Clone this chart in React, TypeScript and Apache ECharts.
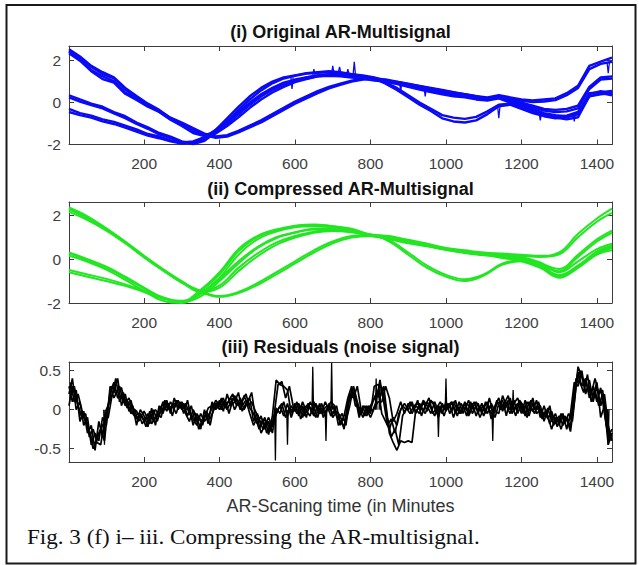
import { useEffect, useRef } from 'react';
import * as echarts from 'echarts';

// Sampling grids (minutes)
const GREEN_X = [1, 50, 100, 150, 200, 250, 300, 350, 400, 450, 500, 550, 600, 650, 700, 750, 800, 850, 900, 950, 1000, 1050, 1100, 1150, 1200, 1250, 1300, 1350, 1400, 1440];
const BLUE_X = [1, 30, 60, 90, 120, 150, 180, 210, 240, 270, 300, 330, 360, 390, 420, 450, 480, 510, 540, 570, 600, 630, 660, 690, 720, 750, 780, 810, 840, 870, 900, 930, 960, 990, 1020, 1050, 1080, 1110, 1140, 1170, 1200, 1230, 1260, 1290, 1320, 1350, 1380, 1410, 1440];
const RESID_X = [1, 10, 20, 30, 40, 50, 60, 70, 80, 90, 100, 110, 120, 130, 140, 150, 160, 170, 180, 190, 200, 210, 220, 230, 240, 250, 260, 270, 280, 290, 300, 310, 320, 330, 340, 350, 360, 370, 380, 390, 400, 410, 420, 430, 440, 450, 460, 470, 480, 490, 500, 510, 520, 530, 540, 550, 560, 570, 580, 590, 600, 610, 620, 630, 640, 650, 660, 670, 680, 690, 700, 710, 720, 730, 740, 750, 760, 770, 780, 790, 800, 810, 820, 830, 840, 850, 860, 870, 880, 890, 900, 910, 920, 930, 940, 950, 960, 970, 980, 990, 1000, 1010, 1020, 1030, 1040, 1050, 1060, 1070, 1080, 1090, 1100, 1110, 1120, 1130, 1140, 1150, 1160, 1170, 1180, 1190, 1200, 1210, 1220, 1230, 1240, 1250, 1260, 1270, 1280, 1290, 1300, 1310, 1320, 1330, 1340, 1350, 1360, 1370, 1380, 1390, 1400, 1410, 1420, 1430, 1440];
const RESID_X_MID = [5, 15, 25, 35, 45, 55, 65, 75, 85, 95, 105, 115, 125, 135, 145, 155, 165, 175, 185, 195, 205, 215, 225, 235, 245, 255, 265, 275, 285, 295, 305, 315, 325, 335, 345, 355, 365, 375, 385, 395, 405, 415, 425, 435, 445, 455, 465, 475, 485, 495, 505, 515, 525, 535, 545, 555, 565, 575, 585, 595, 605, 615, 625, 635, 645, 655, 665, 675, 685, 695, 705, 715, 725, 735, 745, 755, 765, 775, 785, 795, 805, 815, 825, 835, 845, 855, 865, 875, 885, 895, 905, 915, 925, 935, 945, 955, 965, 975, 985, 995, 1005, 1015, 1025, 1035, 1045, 1055, 1065, 1075, 1085, 1095, 1105, 1115, 1125, 1135, 1145, 1155, 1165, 1175, 1185, 1195, 1205, 1215, 1225, 1235, 1245, 1255, 1265, 1275, 1285, 1295, 1305, 1315, 1325, 1335, 1345, 1355, 1365, 1375, 1385, 1395, 1405, 1415, 1425, 1435];

// Tick labels
const MINUTE_TICKS = [200, 400, 600, 800, 1000, 1200, 1400];
const SIGNAL_TICKS = [-2, 0, 2];
const RESID_TICKS = [-0.5, 0, 0.5];

// (i) original AR signals
const BLUE_A1 = [2.45, 2.05, 1.55, 1.25, 1.02, 0.48, 0.2, -0.12, -0.38, -0.72, -0.95, -1.22, -1.48, -1.62, -1.55, -1.35, -1.1, -0.85, -0.55, -0.25, 0.05, 0.3, 0.55, 0.75, 0.9, 1.05, 1.15, 1.15, 0.9, 0.6, 0.25, -0.1, -0.4, -0.75, -0.9, -0.95, -0.85, -0.55, -0.18, -0.1, -0.3, -0.5, -0.65, -0.75, -0.7, -0.55, 0.3, 0.45, 0.35];
const BLUE_A2 = [2.35, 2.0, 1.5, 1.12, 0.95, 0.42, 0.12, -0.2, -0.45, -0.8, -1.02, -1.3, -1.55, -1.68, -1.62, -1.42, -1.18, -0.95, -0.65, -0.35, -0.05, 0.2, 0.45, 0.68, 0.85, 1.0, 1.1, 1.12, 0.95, 0.7, 0.35, 0.0, -0.3, -0.6, -0.72, -0.78, -0.68, -0.42, -0.1, -0.05, -0.25, -0.45, -0.58, -0.68, -0.62, -0.45, 0.4, 0.55, 0.42];
const BLUE_B1 = [2.55, 2.2, 1.75, 1.45, 1.2, 0.7, 0.32, -0.05, -0.35, -0.75, -1.08, -1.4, -1.55, -1.4, -1.0, -0.55, -0.1, 0.3, 0.6, 0.85, 1.05, 1.2, 1.3, 1.35, 1.4, 1.35, 1.3, 1.2, 1.05, 0.95, 0.85, 0.75, 0.65, 0.55, 0.45, 0.4, 0.3, 0.25, 0.35, 0.25, 0.15, 0.1, 0.15, 0.2, 0.45, 0.8, 1.75, 1.95, 2.15];
const BLUE_B2 = [2.45, 2.12, 1.7, 1.36, 1.15, 0.62, 0.24, -0.12, -0.44, -0.82, -1.12, -1.45, -1.6, -1.48, -1.12, -0.7, -0.25, 0.15, 0.48, 0.75, 0.98, 1.12, 1.25, 1.3, 1.33, 1.3, 1.25, 1.15, 1.0, 0.9, 0.78, 0.68, 0.58, 0.48, 0.38, 0.32, 0.22, 0.18, 0.28, 0.18, 0.08, 0.02, 0.05, 0.12, 0.35, 0.7, 1.6, 1.85, 1.95];
const BLUE_C1 = [0.35, 0.15, -0.05, -0.2, -0.45, -0.65, -0.95, -1.18, -1.45, -1.62, -1.85, -1.95, -1.75, -1.3, -0.75, -0.2, 0.3, 0.7, 1.0, 1.2, 1.3, 1.4, 1.45, 1.5, 1.45, 1.35, 1.25, 1.15, 1.1, 1.0, 0.9, 0.8, 0.7, 0.6, 0.5, 0.4, 0.3, 0.2, 0.25, 0.1, 0.0, -0.15, -0.3, -0.35, -0.3, -0.15, 0.75, 1.2, 1.25];
const BLUE_C2 = [0.25, 0.05, -0.12, -0.28, -0.52, -0.74, -1.02, -1.25, -1.52, -1.7, -1.9, -1.98, -1.82, -1.42, -0.9, -0.35, 0.15, 0.58, 0.92, 1.15, 1.28, 1.38, 1.42, 1.45, 1.42, 1.32, 1.2, 1.12, 1.05, 0.98, 0.88, 0.78, 0.68, 0.58, 0.48, 0.38, 0.28, 0.18, 0.22, 0.05, -0.08, -0.22, -0.38, -0.45, -0.42, -0.28, 0.65, 1.1, 1.15];
const BLUE_D1 = [-0.3, -0.5, -0.62, -0.8, -0.92, -1.1, -1.28, -1.5, -1.62, -1.8, -1.9, -1.85, -1.65, -1.3, -0.9, -0.45, 0.0, 0.4, 0.7, 0.95, 1.1, 1.2, 1.3, 1.3, 1.3, 1.25, 1.2, 1.1, 1.05, 0.95, 0.8, 0.7, 0.55, 0.45, 0.35, 0.3, 0.2, 0.15, 0.3, 0.05, -0.1, -0.3, -0.5, -0.6, -0.65, -0.55, 0.45, 0.5, 0.55];
const BLUE_D2 = [-0.45, -0.6, -0.72, -0.9, -1.02, -1.2, -1.38, -1.58, -1.7, -1.85, -1.95, -1.9, -1.72, -1.4, -1.0, -0.55, -0.1, 0.3, 0.62, 0.88, 1.05, 1.15, 1.25, 1.28, 1.25, 1.2, 1.15, 1.05, 1.0, 0.9, 0.75, 0.62, 0.5, 0.4, 0.3, 0.25, 0.15, 0.1, 0.2, 0.0, -0.18, -0.4, -0.6, -0.72, -0.8, -0.7, 0.3, 0.4, 0.45];
// short glitches in the original signals: [minute, level, tip]
const BLUE_SPIKES = [[592, 1.2, 0.65], [650, 1.3, 1.6], [700, 1.4, 1.75], [718, 1.45, 1.7], [740, 1.35, 1.6], [757, 1.35, 1.95], [880, 1.0, 0.5], [945, 0.7, 0.3], [1140, -0.2, -0.75], [1250, -0.5, -0.85], [1340, -0.5, -0.9], [1430, 1.9, 1.4]];

// (ii) compressed AR signals
const GREEN_A1 = [2.25, 1.85, 1.35, 0.75, 0.1, -0.5, -1.05, -1.45, -1.68, -1.5, -1.1, -0.6, -0.1, 0.4, 0.8, 1.05, 1.1, 0.8, 0.2, -0.4, -0.8, -1.0, -0.75, -0.25, -0.1, -0.35, -0.8, -0.35, 0.25, 0.5];
const GREEN_A2 = [2.15, 1.78, 1.3, 0.72, 0.08, -0.52, -1.08, -1.5, -1.72, -1.55, -1.18, -0.7, -0.2, 0.3, 0.72, 0.98, 1.05, 0.85, 0.3, -0.3, -0.72, -0.92, -0.7, -0.2, -0.05, -0.3, -0.72, -0.3, 0.35, 0.62];
const GREEN_B1 = [2.35, 1.95, 1.4, 0.8, 0.15, -0.45, -1.0, -1.45, -1.2, -0.4, 0.25, 0.75, 1.05, 1.25, 1.3, 1.25, 1.1, 0.95, 0.8, 0.65, 0.5, 0.4, 0.3, 0.25, 0.2, 0.15, 0.3, 1.15, 1.85, 2.3];
const GREEN_B2 = [2.3, 1.9, 1.38, 0.78, 0.12, -0.5, -1.05, -1.5, -1.3, -0.55, 0.12, 0.65, 0.98, 1.2, 1.28, 1.22, 1.08, 0.9, 0.72, 0.58, 0.45, 0.35, 0.25, 0.2, 0.15, 0.1, 0.22, 1.0, 1.7, 2.1];
const GREEN_C1 = [0.25, -0.05, -0.4, -0.85, -1.35, -1.8, -1.95, -1.45, -0.7, 0.35, 1.0, 1.3, 1.5, 1.55, 1.5, 1.35, 1.1, 1.0, 0.85, 0.65, 0.45, 0.3, 0.2, 0.15, 0.05, -0.2, -0.45, 0.2, 0.9, 1.3];
const GREEN_C2 = [0.15, -0.12, -0.48, -0.95, -1.45, -1.9, -2.0, -1.55, -0.85, 0.2, 0.9, 1.25, 1.45, 1.5, 1.45, 1.3, 1.05, 0.95, 0.8, 0.6, 0.42, 0.28, 0.18, 0.12, 0.0, -0.28, -0.55, 0.1, 0.8, 1.2];
const GREEN_C3 = [0.3, 0.0, -0.35, -0.8, -1.3, -1.75, -1.92, -1.4, -0.6, 0.45, 1.05, 1.35, 1.52, 1.58, 1.5, 1.38, 1.12, 1.02, 0.88, 0.7, 0.5, 0.35, 0.25, 0.2, 0.1, -0.15, -0.6, -0.1, 0.45, 0.7];
const GREEN_D1 = [-0.5, -0.7, -0.9, -1.15, -1.45, -1.75, -1.95, -1.7, -1.0, -0.2, 0.5, 0.95, 1.2, 1.35, 1.35, 1.25, 1.1, 1.05, 0.85, 0.65, 0.45, 0.35, 0.25, 0.1, -0.05, -0.35, -0.75, -0.3, 0.3, 0.55];
const GREEN_D2 = [-0.6, -0.8, -1.0, -1.22, -1.5, -1.8, -1.9, -1.6, -0.9, -0.1, 0.55, 1.0, 1.22, 1.38, 1.4, 1.3, 1.12, 1.02, 0.82, 0.62, 0.42, 0.3, 0.2, 0.05, -0.1, -0.4, -0.85, -0.4, 0.2, 0.4];

// (iii) residuals (noise), sampled every 10 minutes
const RESID_1 = [
  0.05, 0.3, 0.15, -0.05, -0.1, -0.2, -0.35, -0.45, -0.3, -0.2,
  -0.12, 0.22, 0.35, 0.15, 0.18, 0.05, 0.1, -0.05, -0.12, -0.05,
  -0.15, -0.05, -0.18, -0.1, 0.0, 0.08, -0.02, 0.1, 0.02, 0.12,
  0.0, 0.08, -0.05, -0.12, -0.2, -0.05, -0.15, -0.08, 0.02, 0.12,
  0.05, 0.15, 0.0, 0.1, 0.18, 0.05, 0.12, 0.2, 0.02, -0.05,
  -0.18, -0.08, -0.25, -0.15, -0.3, 0.02, -0.05, 0.1, -0.08, 0.05,
  -0.02, 0.08, -0.1, 0.05, 0.02, -0.08, 0.05, -0.05, 0.1, 0.0,
  0.05, -0.08, -0.15, -0.22, 0.05, 0.25, 0.18, -0.05, 0.02, -0.08,
  0.05, 0.15, 0.25, -0.05, -0.15, -0.25, -0.1, -0.2, 0.0, 0.08,
  0.0, 0.1, -0.05, 0.08, -0.02, 0.1, 0.02, -0.08, 0.05, -0.05,
  0.1, -0.05, 0.05, -0.08, 0.08, 0.0, 0.12, -0.05, 0.05, -0.1,
  0.02, 0.1, -0.12, 0.05, 0.15, -0.02, 0.1, 0.0, 0.12, -0.05,
  0.08, -0.08, 0.1, -0.02, 0.12, -0.1, 0.05, -0.12, -0.02, -0.18,
  -0.08, -0.2, -0.1, -0.22, 0.25, 0.48, 0.3, 0.4, 0.15, 0.3,
  0.1, 0.28, -0.05, -0.35, -0.25,
];
const RESID_2 = [
  0.3, 0.1, 0.25, -0.15, -0.02, -0.3, -0.2, -0.52, -0.15, -0.35,
  0.0, 0.12, 0.25, 0.4, 0.05, 0.2, -0.02, 0.05, -0.2, 0.0,
  -0.08, -0.22, 0.02, -0.2, 0.05, -0.05, 0.12, -0.05, 0.15, 0.0,
  0.1, -0.05, -0.15, 0.0, -0.1, -0.25, 0.0, -0.18, 0.1, 0.0,
  0.12, -0.02, 0.2, 0.05, 0.1, 0.22, -0.02, 0.08, 0.15, -0.15,
  -0.05, -0.2, -0.1, -0.32, -0.08, 0.38, 0.32, 0.3, 0.25, -0.05,
  0.08, -0.08, 0.05, -0.1, 0.1, 0.02, -0.1, 0.08, -0.05, 0.05,
  -0.05, 0.05, -0.2, -0.08, 0.15, 0.3, 0.05, 0.02, -0.1, 0.05,
  -0.05, 0.3, 0.32, 0.28, 0.05, -0.3, -0.42, -0.52, -0.4, -0.42,
  -0.4, -0.42, 0.0, -0.05, 0.1, -0.02, 0.12, 0.05, -0.1, 0.08,
  -0.02, 0.08, -0.1, 0.05, -0.05, 0.1, -0.05, 0.08, -0.08, 0.05,
  -0.08, 0.05, 0.02, -0.1, 0.08, 0.12, -0.08, 0.15, -0.02, 0.08,
  -0.05, 0.12, -0.08, 0.08, 0.0, 0.05, -0.15, 0.02, -0.15, -0.05,
  -0.2, -0.05, -0.25, -0.05, 0.35, 0.3, 0.5, 0.2, 0.38, 0.1,
  0.3, 0.05, 0.2, -0.2, -0.4,
];
const RESID_3 = [
  0.2, 0.4, 0.0, 0.1, -0.2, -0.1, -0.45, -0.3, -0.4, -0.1,
  -0.2, 0.3, 0.15, 0.25, 0.28, 0.08, 0.15, 0.02, -0.02, -0.1,
  -0.02, -0.12, -0.08, 0.0, -0.08, 0.1, 0.05, 0.0, 0.08, 0.05,
  0.06, 0.0, 0.02, -0.2, -0.05, -0.15, -0.1, 0.02, 0.05, 0.08,
  0.0, 0.1, 0.08, 0.15, 0.0, 0.1, 0.05, 0.12, -0.05, -0.2,
  -0.1, -0.3, -0.2, -0.1, -0.22, -0.05, 0.05, -0.08, 0.08, -0.1,
  0.05, -0.05, 0.1, -0.02, -0.08, 0.1, -0.02, 0.02, -0.08, 0.08,
  -0.1, -0.02, -0.08, -0.25, 0.1, 0.2, 0.15, -0.1, 0.05, 0.0,
  -0.1, 0.02, 0.1, 0.1, 0.3, 0.15, -0.15, -0.05, 0.1, -0.05,
  0.08, -0.05, 0.05, 0.0, 0.12, 0.05, -0.05, 0.1, -0.02, 0.05,
  0.0, 0.05, 0.1, 0.0, -0.02, 0.08, -0.08, 0.02, 0.1, 0.0,
  0.05, -0.05, 0.08, -0.02, -0.05, 0.18, 0.05, -0.05, 0.08, 0.15,
  0.0, 0.05, -0.02, 0.15, -0.05, 0.0, -0.05, -0.08, -0.25, -0.1,
  -0.15, -0.1, -0.12, -0.28, 0.1, 0.55, 0.42, 0.22, 0.28, 0.18,
  0.35, -0.1, 0.05, -0.45, -0.3,
];
// residuals sampled between the 10-minute marks
const RESID_4 = [
  0.35, 0.1, 0.2, 0.0, -0.15, -0.28, -0.5, -0.38, -0.25, -0.4,
  0.05, 0.3, 0.2, 0.3, 0.1, 0.12, -0.05, 0.0, -0.15, -0.08,
  -0.22, -0.02, -0.15, -0.05, -0.1, 0.12, 0.0, 0.06, -0.05, 0.1,
  -0.05, 0.12, -0.1, -0.05, -0.25, -0.12, -0.05, -0.2, 0.05, 0.02,
  0.15, 0.02, 0.12, 0.2, 0.05, 0.15, 0.0, 0.1, 0.22, -0.1,
  -0.25, -0.12, -0.3, -0.2, -0.12, 0.0, 0.08, -0.1, 0.02, -0.02,
  0.1, -0.12, 0.0, 0.08, -0.05, 0.08, -0.05, 0.0, 0.05, -0.08,
  -0.02, -0.12, -0.05, -0.2, 0.2, 0.15, 0.3, 0.0, -0.08, 0.05,
  -0.02, 0.1, 0.38, 0.1, -0.2, -0.12, -0.3, -0.05, 0.05, 0.0,
  0.1, 0.0, 0.12, -0.08, 0.05, 0.15, -0.05, 0.02, 0.1, 0.0,
  0.05, 0.1, -0.05, 0.1, -0.05, 0.08, 0.02, 0.1, -0.05, 0.08,
  -0.05, 0.15, -0.05, 0.12, 0.0, 0.08, 0.18, -0.05, 0.05, 0.1,
  -0.05, 0.1, 0.02, -0.05, 0.1, -0.05, -0.1, 0.05, -0.2, -0.1,
  -0.25, -0.08, -0.15, -0.05, 0.4, 0.35, 0.22, 0.45, 0.1, 0.25,
  0.05, 0.2, -0.2, -0.3,
];
const RESID_5 = [
  0.15, 0.3, 0.05, -0.1, -0.05, -0.35, -0.25, -0.42, -0.45, -0.15,
  -0.1, 0.18, 0.4, 0.1, 0.22, 0.02, 0.12, -0.08, -0.05, -0.18,
  -0.1, -0.18, 0.0, -0.15, 0.02, 0.0, 0.08, -0.08, 0.12, 0.02,
  0.08, -0.08, 0.05, -0.15, -0.08, -0.2, -0.02, -0.12, 0.0, 0.1,
  0.0, 0.12, -0.05, 0.12, 0.15, 0.0, 0.18, 0.05, 0.1, -0.02,
  -0.12, -0.25, -0.15, -0.28, -0.05, 0.32, 0.36, 0.15, 0.3, 0.05,
  -0.05, 0.05, -0.08, 0.05, 0.0, -0.1, 0.08, -0.1, 0.02, 0.1,
  0.05, -0.2, -0.12, -0.15, 0.05, 0.3, 0.1, -0.05, 0.05, -0.05,
  0.08, 0.2, 0.15, 0.3, -0.1, -0.35, -0.25, -0.45, -0.08, 0.02,
  -0.05, 0.05, 0.08, 0.02, -0.05, 0.08, 0.1, -0.05, 0.05, -0.08,
  0.08, -0.02, 0.12, -0.05, 0.05, -0.08, 0.1, 0.0, 0.08, -0.05,
  0.1, 0.0, -0.08, 0.08, 0.1, 0.0, 0.12, 0.05, -0.08, 0.12,
  0.05, -0.1, 0.12, 0.0, 0.05, -0.12, 0.0, -0.18, -0.08, -0.22,
  -0.05, -0.18, -0.05, -0.15, 0.3, 0.5, 0.35, 0.3, 0.2, 0.4,
  0.2, 0.25, -0.1, -0.4,
];
// isolated residual spikes: [minute, tip]
const RESID_SPIKES = [[95, -0.45], [548, -0.65], [580, -0.45], [647, 0.55], [682, -0.4], [697, 0.6], [815, 0.4], [825, 0.38], [980, -0.35], [1000, 0.4], [1124, -0.4], [1178, 0.25], [1430, -0.45]];

const BLUE = '#0a0af5';
const GREEN = '#22e622';
const BLACK = '#000000';
const AXIS_COLOR = '#3c3c3c';
const LABEL_COLOR = '#404040';
const SANS = '"Liberation Sans", Arial, Helvetica, sans-serif';

const GRIDS = [
  { left: 69, top: 46, width: 543, height: 98.5 },
  { left: 69, top: 202, width: 543, height: 101 },
  { left: 69, top: 362, width: 543, height: 100 },
];
const Y_RANGES = [
  { min: -2, max: 2.7, ticks: SIGNAL_TICKS },
  { min: -2, max: 2.6, ticks: SIGNAL_TICKS },
  { min: -0.67, max: 0.61, ticks: RESID_TICKS },
];

const pairs = (xs: number[], ys: number[]) => xs.map((x, i) => [x, ys[i]]);
const plainNumber = (v: number) => String(v);

function xAxesFor(gridIndex: number) {
  const common = {
    type: 'value', gridIndex, min: 1, max: 1440,
    axisLine: { show: true, onZero: false, lineStyle: { color: AXIS_COLOR, width: 1 } },
    axisTick: { show: true, inside: true, length: 5, customValues: MINUTE_TICKS, lineStyle: { color: AXIS_COLOR, width: 1 } },
    splitLine: { show: false },
  };
  return [
    { ...common, position: 'bottom', axisLabel: { show: true, customValues: MINUTE_TICKS, formatter: plainNumber, color: LABEL_COLOR, fontSize: 15.5, fontFamily: SANS, margin: 11 } },
    { ...common, position: 'top', axisLabel: { show: false } },
  ];
}

function yAxesFor(gridIndex: number) {
  const r = Y_RANGES[gridIndex];
  const common = {
    type: 'value', gridIndex, min: r.min, max: r.max,
    axisLine: { show: true, onZero: false, lineStyle: { color: AXIS_COLOR, width: 1 } },
    axisTick: { show: true, inside: true, length: 5, customValues: r.ticks, lineStyle: { color: AXIS_COLOR, width: 1 } },
    splitLine: { show: false },
  };
  return [
    { ...common, position: 'left', axisLabel: { show: true, customValues: r.ticks, formatter: plainNumber, color: LABEL_COLOR, fontSize: 15.5, fontFamily: SANS, margin: 8 } },
    { ...common, position: 'right', axisLabel: { show: false } },
  ];
}

function lineSeries(gridIndex: number, data: any[], color: string, width: number, smooth: number | boolean) {
  return {
    type: 'line', xAxisIndex: gridIndex * 2, yAxisIndex: gridIndex * 2,
    data, showSymbol: false, symbol: 'none', smooth, clip: true,
    lineStyle: { color, width }, emphasis: { disabled: true }, silent: true,
  };
}

function buildOption() {
  const series: any[] = [];
  [BLUE_A1, BLUE_A2, BLUE_B1, BLUE_B2, BLUE_C1, BLUE_C2, BLUE_D1, BLUE_D2].forEach((ys) =>
    series.push(lineSeries(0, pairs(BLUE_X, ys), BLUE, 2.4, false)));
  BLUE_SPIKES.forEach(([m, base, tip]) =>
    series.push(lineSeries(0, [[m - 3, base], [m, tip], [m + 3, base]], BLUE, 1.3, false)));

  [GREEN_A1, GREEN_A2, GREEN_B1, GREEN_B2, GREEN_C1, GREEN_C2, GREEN_C3, GREEN_D1, GREEN_D2].forEach((ys) =>
    series.push(lineSeries(1, pairs(GREEN_X, ys), GREEN, 2.0, 0.4)));

  [RESID_1, RESID_2, RESID_3].forEach((ys) =>
    series.push(lineSeries(2, pairs(RESID_X, ys), BLACK, 1.7, false)));
  [RESID_4, RESID_5].forEach((ys) =>
    series.push(lineSeries(2, pairs(RESID_X_MID, ys), BLACK, 1.7, false)));
  RESID_SPIKES.forEach(([m, tip]) =>
    series.push(lineSeries(2, [[m - 2, 0], [m, tip], [m + 2, 0]], BLACK, 1.3, false)));

  const titleFont = { fontSize: 18, fontWeight: 'bold', fontFamily: SANS, fill: '#111' };
  const title = (text: string, y: number) => ({
    type: 'text', x: 340.5, y, silent: true,
    style: { text, ...titleFont, align: 'center', verticalAlign: 'middle' },
  });

  return {
    animation: false,
    backgroundColor: '#ffffff',
    grid: GRIDS.map((g) => ({ ...g, containLabel: false })),
    xAxis: [0, 1, 2].flatMap(xAxesFor),
    yAxis: [0, 1, 2].flatMap(yAxesFor),
    series,
    graphic: [
      {
        type: 'rect', silent: true,
        shape: { x: 6.5, y: 5, width: 629, height: 558.5 },
        style: { fill: 'none', stroke: '#1a1a1a', lineWidth: 2 },
      },
      title('(i) Original AR-Multisignal', 31.5),
      title('(ii) Compressed AR-Multisignal', 188.5),
      title('(iii) Residuals (noise signal)', 347),
      {
        type: 'text', x: 340.5, y: 506, silent: true,
        style: { text: 'AR-Scaning time (in Minutes', fontSize: 18, fontFamily: SANS, fill: '#333', align: 'center', verticalAlign: 'middle' },
      },
      {
        type: 'text', x: 27, y: 537, scaleX: 1.1, silent: true,
        style: { text: 'Fig. 3 (f) i\u2013 iii. Compressing the AR-multisignal.', fontSize: 21, fontFamily: '"Liberation Serif", "Times New Roman", serif', fill: '#111', align: 'left', verticalAlign: 'middle' },
      },
    ],
  };
}

export default function App() {
  const ref = useRef<HTMLDivElement>(null);
  useEffect(() => {
    if (!ref.current) return;
    const chart = echarts.init(ref.current, null, { renderer: 'svg' });
    chart.setOption(buildOption() as any);
    return () => chart.dispose();
  }, []);
  return (
    <div
      ref={ref}
      style={{ position: 'fixed', left: 0, top: 0, width: 639, height: 565, background: '#ffffff' }}
    />
  );
}
